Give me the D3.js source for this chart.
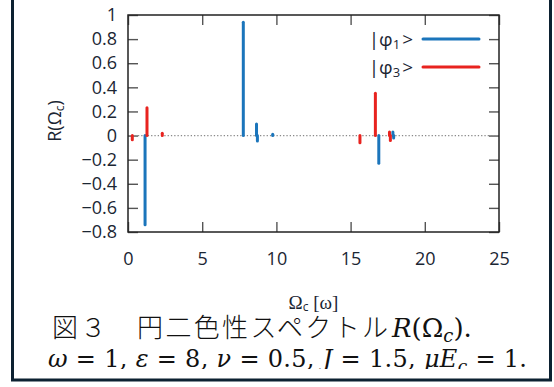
<!DOCTYPE html>
<html lang="ja">
<head>
<meta charset="utf-8">
<title>R(Ωc)</title>
<script src="https://cdn.jsdelivr.net/npm/d3@7"></script>
<style>
  body { margin: 0; background: #fff; }
  svg { display: block; }
  .tick text { font-family: "Open Sans", "Noto Sans", sans-serif; font-size: 18px; fill: #1b2633; }
  .tick line { stroke: #555; stroke-width: 1.4; }
</style>
</head>
<body>
<div id="chart"></div>
<script>
// impulse spectra: [Omega_c, R]
var phi1X = [1.15, 7.77, 8.66, 8.72, 9.75, 16.9, 17.85, 17.9];
var phi1Y = [-0.74, 0.94, 0.095, -0.045, 0.01, -0.23, 0.03, -0.02];
var phi3X = [0.29, 1.28, 2.31, 15.63, 16.67, 17.62, 17.68];
var phi3Y = [-0.035, 0.23, 0.02, -0.06, 0.35, 0.03, -0.04];

var xTicks = [0, 5, 10, 15, 20, 25];
var yTicks = [-0.8, -0.6, -0.4, -0.2, 0, 0.2, 0.4, 0.6, 0.8, 1];

var series = [
  {name: "1", color: "#1b75bb", xs: phi1X, ys: phi1Y},
  {name: "3", color: "#e8231f", xs: phi3X, ys: phi3Y}
];

var W = 554, H = 387;
var margin = {left: 128, top: 15, right: 55, bottom: 155};
var width = W - margin.left - margin.right,
    height = H - margin.top - margin.bottom;

var svg = d3.select("#chart").append("svg")
    .attr("width", W).attr("height", H);

var x = d3.scaleLinear().domain([0, 25]).range([0, width]);
var y = d3.scaleLinear().domain([-0.8, 1]).range([height, 0]);

var g = svg.append("g")
    .attr("transform", "translate(" + margin.left + "," + margin.top + ")");

// axes, ticks pointing inward, mirrored on top/right
g.append("g").attr("transform", "translate(0," + height + ")")
  .call(d3.axisBottom(x).tickValues(xTicks).tickSizeInner(-10).tickSizeOuter(0).tickPadding(20))
  .call(function(s){ s.select(".domain").remove(); });
g.append("g")
  .call(d3.axisLeft(y).tickValues(yTicks).tickFormat(d3.format("~g")).tickSizeInner(-10).tickSizeOuter(0).tickPadding(11))
  .call(function(s){ s.select(".domain").remove(); });
g.append("g")
  .call(d3.axisTop(x).tickValues(xTicks).tickSizeInner(-10).tickSizeOuter(0).tickFormat(""))
  .call(function(s){ s.select(".domain").remove(); });
g.append("g").attr("transform", "translate(" + width + ",0)")
  .call(d3.axisRight(y).tickValues(yTicks).tickSizeInner(-10).tickSizeOuter(0).tickFormat(""))
  .call(function(s){ s.select(".domain").remove(); });

// zero line
g.append("line")
  .attr("x1", 0).attr("x2", width)
  .attr("y1", y(0)).attr("y2", y(0))
  .attr("stroke", "#8a8a8a").attr("stroke-width", 1.3)
  .attr("stroke-dasharray", "1.3,2");

// frame
g.append("rect")
  .attr("width", width).attr("height", height)
  .attr("fill", "none").attr("stroke", "#222").attr("stroke-width", 1.5);

// impulses
series.forEach(function(s) {
  g.selectAll(null)
    .data(d3.range(s.xs.length))
    .enter().append("line")
      .attr("x1", function(i){ return x(s.xs[i]); })
      .attr("x2", function(i){ return x(s.xs[i]); })
      .attr("y1", y(0))
      .attr("y2", function(i){ return y(s.ys[i]); })
      .attr("stroke", s.color)
      .attr("stroke-width", 3)
      .attr("stroke-linecap", "round");
});

// legend
var legend = g.append("g").attr("transform", "translate(" + (width - 76) + ",24)");
series.forEach(function(s, i) {
  var row = legend.append("g").attr("transform", "translate(0," + (i * 28) + ")");
  var t = row.append("text")
    .attr("x", -10).attr("y", 7)
    .attr("text-anchor", "end")
    .style("font-family", "'Open Sans', 'Noto Sans', sans-serif")
    .style("font-size", "19px").style("fill", "#1b2633");
  t.append("tspan").text("|φ");
  t.append("tspan").text(s.name).style("font-size", "13px").attr("dy", 3);
  t.append("tspan").text(">").attr("dx", 2).attr("dy", -3);
  row.append("line")
    .attr("x1", 0).attr("x2", 56)
    .attr("stroke", s.color).attr("stroke-width", 3)
    .attr("stroke-linecap", "round");
});

// axis labels
var yl = svg.append("text")
  .attr("transform", "translate(61,121) rotate(-90)")
  .attr("text-anchor", "middle")
  .style("font-family", "'Open Sans', 'Noto Sans', sans-serif")
  .style("font-size", "18px").style("fill", "#1b2633");
yl.append("tspan").text("R(Ω");
yl.append("tspan").text("c").style("font-size", "12px").attr("dy", 3);
yl.append("tspan").text(")").attr("dy", -3);

var xl = svg.append("text")
  .attr("x", margin.left + width / 2).attr("y", 309)
  .attr("text-anchor", "middle")
  .style("font-family", "'Liberation Serif', 'DejaVu Serif', serif")
  .style("font-size", "19px").style("fill", "#1b2633");
xl.append("tspan").text("Ω");
xl.append("tspan").text("c").style("font-family", "'Open Sans', sans-serif").style("font-size", "12px").attr("dy", 2);
xl.append("tspan").text(" [ω]").attr("dy", -2);

// caption
svg.append("clipPath").attr("id", "capclip")
  .append("rect").attr("x", 0).attr("y", 0).attr("width", W).attr("height", 369);

var cap = svg.append("g").attr("clip-path", "url(#capclip)")
  .style("fill", "#111");
cap.append("text").attr("x", 52).attr("y", 337)
  .attr("textLength", 336).attr("lengthAdjust", "spacing")
  .style("font-family", "'Noto Sans CJK JP', sans-serif").style("font-weight", 300)
  .style("font-size", "26px")
  .text("図３　円二色性スペクトル");
var c1 = cap.append("text").attr("x", 392).attr("y", 337)
  .style("font-family", "'DejaVu Serif', serif").style("font-size", "26px");
c1.append("tspan").text("R").style("font-style", "italic");
c1.append("tspan").text("(Ω");
c1.append("tspan").text("c").style("font-style", "italic").style("font-size", "18px").attr("dy", 5);
c1.append("tspan").text(").").attr("dy", -5);

var c2 = cap.append("text").attr("x", 48).attr("y", 367)
  .attr("textLength", 479).attr("lengthAdjust", "spacing")
  .style("font-family", "'DejaVu Serif', serif").style("font-size", "24px");
c2.append("tspan").text("ω").style("font-style", "italic");
c2.append("tspan").text(" = 1, ");
c2.append("tspan").text("ε").style("font-style", "italic");
c2.append("tspan").text(" = 8, ");
c2.append("tspan").text("ν").style("font-style", "italic");
c2.append("tspan").text(" = 0.5, ");
c2.append("tspan").text("J").style("font-style", "italic");
c2.append("tspan").text(" = 1.5, ");
c2.append("tspan").text("μE").style("font-style", "italic");
c2.append("tspan").text("c").style("font-style", "italic").style("font-size", "17px").attr("dy", 5);
c2.append("tspan").text(" = 1.").attr("dy", -5);

// outer box (top edge cropped off)
svg.append("path")
  .attr("d", "M12.5,0 V380 H550.5 V0")
  .attr("fill", "none").attr("stroke", "#0c2131").attr("stroke-width", 3);
</script>
</body>
</html>
